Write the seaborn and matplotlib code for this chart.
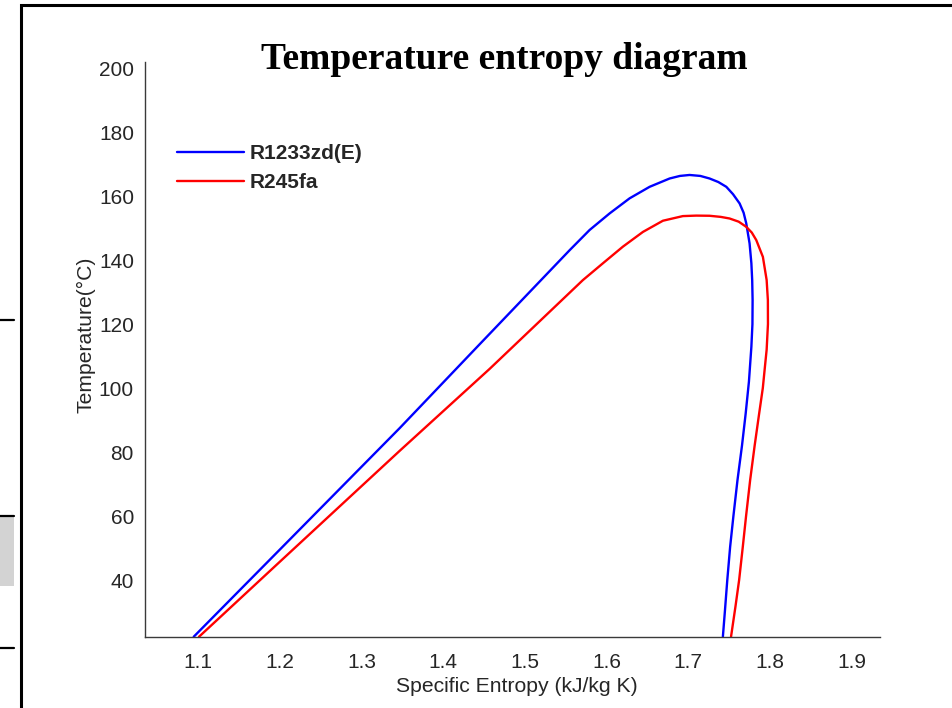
import matplotlib
matplotlib.use("Agg")
import matplotlib.pyplot as plt
import seaborn as sns
import pandas as pd
from matplotlib.patches import Rectangle
from matplotlib.lines import Line2D

# ---- data ----
r1233_s = [1.0947, 1.2000, 1.3469, 1.4448, 1.5550, 1.5794, 1.6040, 1.6284, 1.6529,
           1.6774, 1.6900, 1.7018, 1.7150, 1.7263, 1.7370, 1.7468, 1.7550, 1.7631,
           1.7680, 1.7712, 1.7753, 1.7775, 1.7785, 1.7790, 1.7788, 1.7775, 1.7745,
           1.7705, 1.7660, 1.7605, 1.7555, 1.7515, 1.7480, 1.7450, 1.7426]
r1233_T = [22.3, 49.5, 87.5, 113.7, 143.1, 149.4, 154.6, 159.3, 162.9,
           165.5, 166.3, 166.6, 166.3, 165.5, 164.4, 162.9, 160.6, 157.7,
           154.8, 151.5, 145.2, 139.0, 133.75, 127.5, 120.0, 112.9, 102.0,
           92.0, 82.0, 71.25, 60.0, 50.4, 40.0, 30.0, 22.3]

r245_s = [1.1012, 1.2000, 1.3469, 1.4570, 1.5712, 1.5957, 1.6202, 1.6447, 1.6692,
          1.6936, 1.7100, 1.7263, 1.7400, 1.7508, 1.7620, 1.7712, 1.7780, 1.7835,
          1.7916, 1.7962, 1.7977, 1.7978, 1.7962, 1.7945, 1.7915, 1.7870, 1.7815,
          1.7760, 1.7710, 1.7670, 1.7625, 1.7580, 1.7526]
r245_T = [22.3, 45.7, 80.4, 106.0, 133.75, 139.0, 144.2, 148.8, 152.3,
          153.75, 153.9, 153.85, 153.5, 153.0, 152.0, 150.4, 148.6, 146.25,
          141.0, 133.75, 127.5, 120.0, 112.0, 107.7, 100.0, 92.0, 82.0,
          71.25, 60.0, 50.4, 40.0, 31.7, 22.3]

series_names = ["R1233zd(E)", "R245fa"]
series_colors = ["#0000ff", "#ff0000"]
x_ticks = [1.1, 1.2, 1.3, 1.4, 1.5, 1.6, 1.7, 1.8, 1.9]
y_ticks = [40, 60, 80, 100, 120, 140, 160, 180, 200]

title_text = "Temperature entropy diagram"
xlabel_text = "Specific Entropy (kJ/kg K)"
ylabel_text = "Temperature(\u00b0C)"

# ---- style ----
sns.set_theme(style="white")
sans = ["Liberation Sans", "DejaVu Sans"]
plt.rcParams["font.family"] = sans

W, H = 953, 708
fig = plt.figure(figsize=(W / 100, H / 100), dpi=100)
fig.patch.set_facecolor("white")

def fx(px):
    return px / W

def fy(py):
    return 1 - py / H

ax_left, ax_right, ax_top, ax_bot = 145, 880, 61.7, 636.7
ax = fig.add_axes([fx(ax_left), fy(ax_bot), fx(ax_right - ax_left), (ax_bot - ax_top) / H])

df = pd.concat([
    pd.DataFrame({"s": r1233_s, "T": r1233_T, "fluid": series_names[0]}),
    pd.DataFrame({"s": r245_s, "T": r245_T, "fluid": series_names[1]}),
], ignore_index=True)

for name, col in zip(series_names, series_colors):
    sub = df[df["fluid"] == name]
    sns.lineplot(data=sub, x="s", y="T", sort=False, estimator=None, ax=ax,
                 color=col, linewidth=1.7, label=name)

ax.set_xlim(1.035, 1.935)
ax.set_ylim(22.3, 202)
ax.set_xticks(x_ticks)
ax.set_xticklabels([f"{v:.1f}" for v in x_ticks])
ax.set_yticks(y_ticks)
ax.set_yticklabels([str(v) for v in y_ticks])

spine_col = "#3a3a3a"
for side in ["top", "right"]:
    ax.spines[side].set_visible(False)
for side in ["left", "bottom"]:
    ax.spines[side].set_color(spine_col)
    ax.spines[side].set_linewidth(1.0)

ax.tick_params(axis="both", direction="in", length=4.5, width=0.9, color=spine_col,
               labelsize=15, labelcolor="#262626")
ax.tick_params(axis="x", pad=12)
ax.tick_params(axis="y", pad=8)
ax.set_xlabel("")
ax.set_ylabel("")

# axis labels
fig.text(fx(517), fy(692), xlabel_text, ha="center", va="baseline",
         fontsize=15.2, color="#262626", family=sans)
fig.text(fx(86), fy(335), ylabel_text, ha="center", va="center", rotation=90,
         fontsize=15.2, color="#262626", family=sans)

# title
fig.text(fx(504.7), fy(69), title_text, ha="center", va="baseline",
         fontsize=27, fontweight="bold", color="black",
         family=["Liberation Serif", "DejaVu Serif"])

# legend
leg = ax.legend(loc="upper left", bbox_to_anchor=(fx(177), fy(144)),
                bbox_transform=fig.transFigure, frameon=False, borderpad=0,
                borderaxespad=0, handlelength=3.2, handletextpad=0.3,
                labelspacing=0.5, prop={"family": sans, "weight": "bold", "size": 15})

# screenshot frame artefacts
fig.add_artist(Rectangle((fx(21), fy(H + 20)), fx(W + 40), (H + 20 - 5) / H,
                         transform=fig.transFigure, fill=False, edgecolor="black",
                         linewidth=2.2))
for yy in [320, 648]:
    fig.add_artist(Line2D([0, fx(14)], [fy(yy), fy(yy)], transform=fig.transFigure,
                          color="black", linewidth=1.6))
fig.add_artist(Rectangle((0, fy(586)), fx(14), (586 - 516) / H, transform=fig.transFigure,
                         facecolor="#d3d3d3", edgecolor="none"))
fig.add_artist(Line2D([0, fx(14)], [fy(516), fy(516)], transform=fig.transFigure,
                      color="black", linewidth=1.6))

fig.savefig("out.png", dpi=100, facecolor="white")
